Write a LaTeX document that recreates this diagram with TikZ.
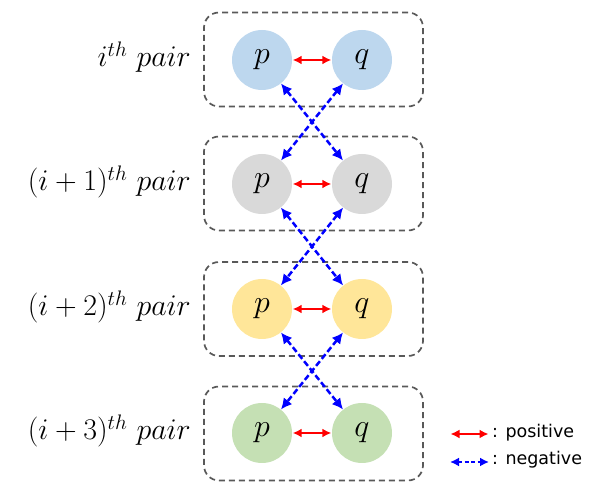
\RequirePackage{fix-cm}
\documentclass[tikz,border=0pt]{standalone}
\usepackage{fontspec}
\newfontfamily\legendfont{DejaVu Sans}
\usetikzlibrary{arrows.meta}
\definecolor{cblue}{HTML}{BDD7EE}
\definecolor{cgray}{HTML}{D9D9D9}
\definecolor{cyellow}{HTML}{FFE699}
\definecolor{cgreen}{HTML}{C5E0B4}
\definecolor{boxgray}{HTML}{595959}
\definecolor{pureblue}{HTML}{0000FF}
\definecolor{purered}{HTML}{FF0000}
\tikzset{
  pairbox/.style={draw=boxgray, line width=1.7pt, dash pattern=on 6pt off 4pt,
    rounded corners=15pt, minimum width=219pt, minimum height=94pt, inner sep=0pt},
  ball/.style={circle, minimum size=60pt, inner sep=0pt, font=\fontsize{32}{34}\selectfont},
  rowlabel/.style={anchor=base east, inner sep=0pt, font=\fontsize{30}{32}\selectfont},
  posarrow/.style={draw=purered, line width=1.8pt, {Latex[length=9pt,width=9pt]}-{Latex[length=9pt,width=9pt]}, shorten <=0.5pt, shorten >=0.5pt},
  negarrow/.style={draw=pureblue, line width=2.5pt, dash pattern=on 6pt off 3pt, {Latex[length=11pt,width=11pt]}-{Latex[length=11pt,width=11pt]}},
  legendtext/.style={anchor=base west, inner sep=0pt, font=\legendfont\fontsize{17.5}{20}\selectfont}
}
\begin{document}
\begin{tikzpicture}[x=1pt,y=1pt]
\useasboundingbox (0,0) rectangle (598,490);
% boxes
\node[pairbox] (box1) at (313.5,430.5) {};
\node[pairbox] (box2) at (313.5,306.5) {};
\node[pairbox] (box3) at (313.5,181) {};
\node[pairbox] (box4) at (313.5,56.5) {};
% circles
\node[ball, fill=cblue] (p1) at (262,430) {$p$};
\node[ball, fill=cblue] (q1) at (362,430) {$q$};
\node[ball, fill=cgray] (p2) at (262,306) {$p$};
\node[ball, fill=cgray] (q2) at (362,306) {$q$};
\node[ball, fill=cyellow] (p3) at (262,181) {$p$};
\node[ball, fill=cyellow] (q3) at (362,181) {$q$};
\node[ball, fill=cgreen] (p4) at (262,57) {$p$};
\node[ball, fill=cgreen] (q4) at (362,57) {$q$};
% labels
\node[rowlabel] (l1) at (191,423) {$i^{th}\ pair$};
\node[rowlabel] (l2) at (191,299) {$(i+1)^{th}\ pair$};
\node[rowlabel] (l3) at (191,174) {$(i+2)^{th}\ pair$};
\node[rowlabel] (l4) at (191,50) {$(i+3)^{th}\ pair$};
% positive arrows
\draw[posarrow] (p1) -- (q1);
\draw[posarrow] (p2) -- (q2);
\draw[posarrow] (p3) -- (q3);
\draw[posarrow] (p4) -- (q4);
% negative arrows
\draw[negarrow] (p1) -- (q2);
\draw[negarrow] (q1) -- (p2);
\draw[negarrow] (p2) -- (q3);
\draw[negarrow] (q2) -- (p3);
\draw[negarrow] (p3) -- (q4);
\draw[negarrow] (q3) -- (p4);
% legend
\coordinate (lpa) at (450,56);
\coordinate (lpb) at (489,56);
\coordinate (lna) at (450,28);
\coordinate (lnb) at (489,28);
\draw[posarrow] (lpa) -- (lpb);
\draw[negarrow, line width=1.8pt, dash pattern=on 4pt off 2.5pt, {Latex[length=9pt,width=9pt]}-{Latex[length=9pt,width=9pt]}] (lna) -- (lnb);
\node[legendtext] (tpos) at (492,52) {: positive};
\node[legendtext] (tneg) at (492,25) {: negative};
\end{tikzpicture}
\end{document}
